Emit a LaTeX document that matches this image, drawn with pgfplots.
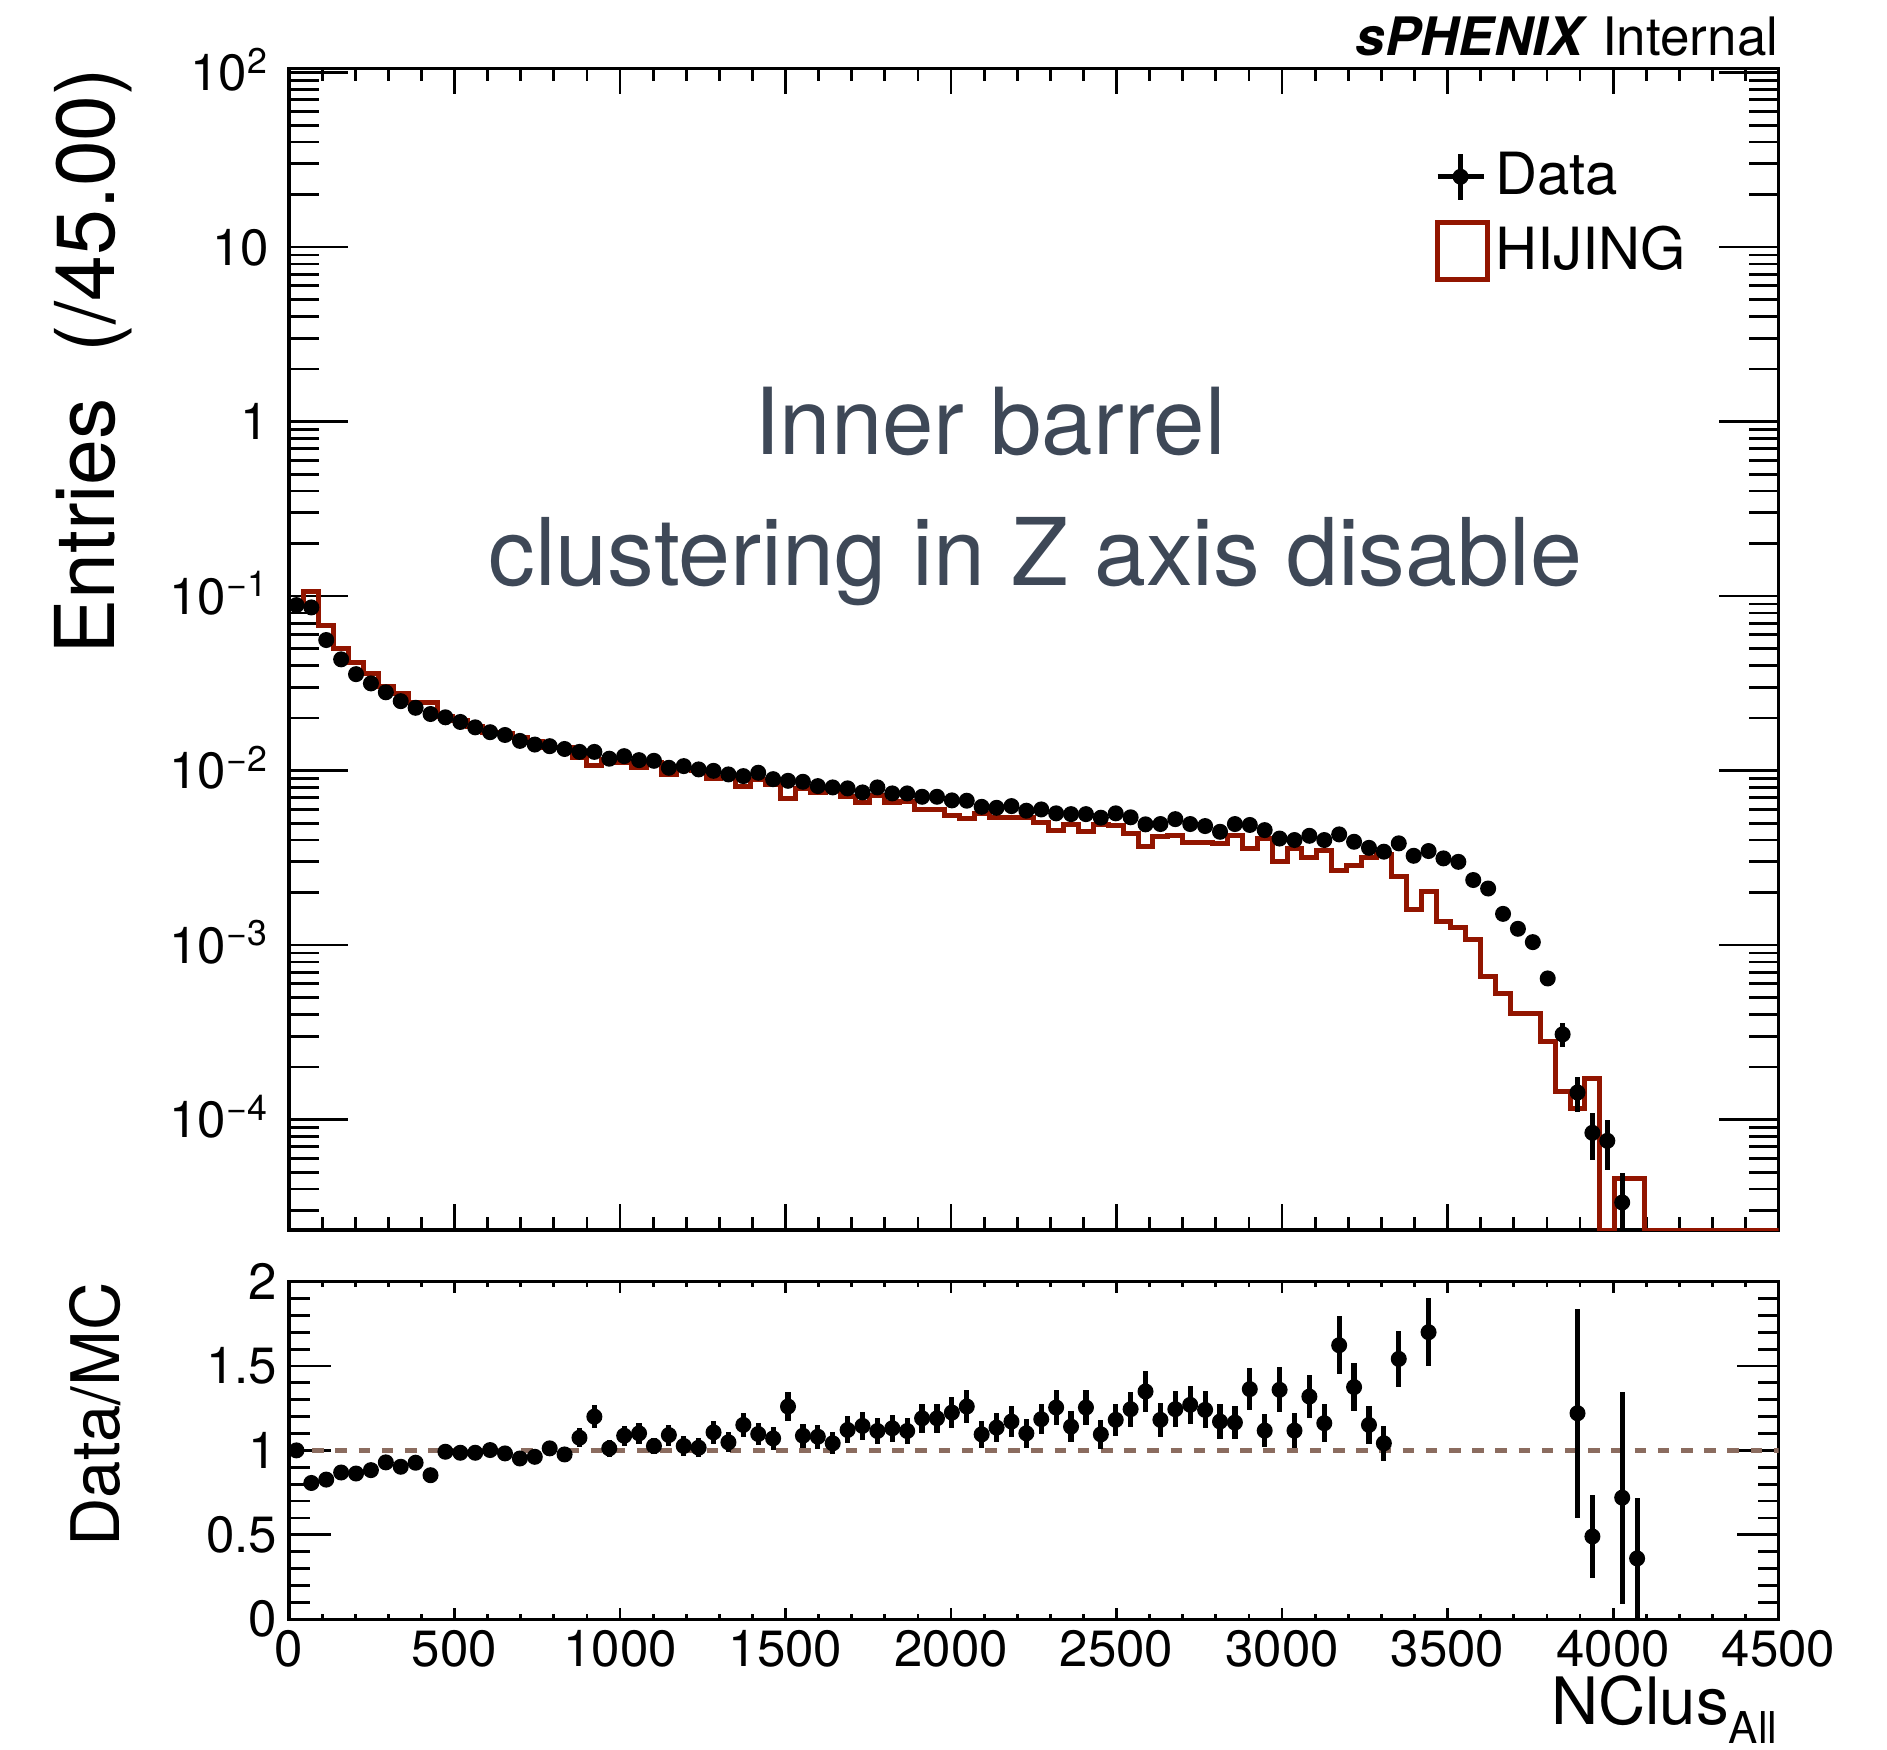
\documentclass[border=0pt]{standalone}
\usepackage{fontspec}
\setmainfont{TeX Gyre Heros}
\usepackage{pgfplots}
\usepackage{pgfplotstable}
\pgfplotsset{compat=1.18}
\definecolor{mcred}{HTML}{921500}
\definecolor{txtgray}{HTML}{3E4857}
\definecolor{dashbrown}{RGB}{139,108,95}

% HIJING histogram: left bin edge, content (empty bins drawn at the axis minimum)
\pgfplotstableread{
x y
0 0.0888
45 0.1067
90 0.0677
135 0.0499
180 0.0414
225 0.0358
270 0.0302
315 0.0277
360 0.0247
405 0.0247
450 0.0204
495 0.0193
540 0.0180
585 0.0166
630 0.0163
675 0.0155
720 0.0147
765 0.0136
810 0.0136
855 0.0119
900 0.01067
945 0.01156
990 0.01113
1035 0.01043
1080 0.01109
1125 0.00951
1170 0.01034
1215 0.01000
1260 0.00901
1305 0.00907
1350 0.00808
1395 0.00886
1440 0.00834
1485 0.00694
1530 0.00794
1575 0.00754
1620 0.00769
1665 0.00706
1710 0.00655
1755 0.00718
1800 0.00654
1845 0.00664
1890 0.00595
1935 0.00595
1980 0.00554
2025 0.00533
2070 0.00566
2115 0.00539
2160 0.00535
2205 0.00535
2250 0.00505
2295 0.00454
2340 0.00493
2385 0.00449
2430 0.00490
2475 0.00482
2520 0.00434
2565 0.00365
2610 0.00418
2655 0.00424
2700 0.00389
2745 0.00388
2790 0.00381
2835 0.00424
2880 0.00358
2925 0.00408
2970 0.00303
3015 0.00358
3060 0.00318
3105 0.00350
3150 0.00267
3195 0.00284
3240 0.00318
3285 0.00332
3330 0.00248
3375 0.00160
3420 0.00202
3465 0.00137
3510 0.00126
3555 0.00108
3600 0.000664
3645 0.000528
3690 0.000406
3735 0.000406
3780 0.000279
3825 0.000144
3870 0.000116
3915 0.000171
3960 2.33e-5
4005 4.6e-5
4050 4.6e-5
4095 2.33e-5
4140 2.33e-5
4185 2.33e-5
4230 2.33e-5
4275 2.33e-5
4320 2.33e-5
4365 2.33e-5
4410 2.33e-5
4455 2.33e-5
4500 2.33e-5
}\mctable

% Data: bin centre, content, error
\pgfplotstableread{
x y e
22.5 0.0888 0
67.5 0.0861 0
112.5 0.0560 0
157.5 0.0434 0
202.5 0.0357 0
247.5 0.0316 0
292.5 0.0281 0
337.5 0.0250 0
382.5 0.0229 0
427.5 0.0211 0
472.5 0.0202 0
517.5 0.0190 0
562.5 0.0177 0
607.5 0.0166 0
652.5 0.0160 0
697.5 0.0148 0
742.5 0.0141 0
787.5 0.0138 0
832.5 0.0133 0
877.5 0.0128 0
922.5 0.0128 0
967.5 0.0117 0
1012.5 0.0121 0
1057.5 0.01148 0
1102.5 0.01138 0
1147.5 0.01038 0
1192.5 0.01061 0
1237.5 0.01016 0
1282.5 0.00997 0
1327.5 0.00951 0
1372.5 0.00930 0
1417.5 0.00972 0
1462.5 0.00893 0
1507.5 0.00874 0
1552.5 0.00863 0
1597.5 0.00815 0
1642.5 0.00801 0
1687.5 0.00791 0
1732.5 0.00750 0
1777.5 0.00801 0
1822.5 0.00740 0
1867.5 0.00740 0
1912.5 0.00708 0
1957.5 0.00708 0
2002.5 0.00675 0
2047.5 0.00672 0
2092.5 0.00620 0
2137.5 0.00612 0
2182.5 0.00626 0
2227.5 0.00589 0
2272.5 0.00599 0
2317.5 0.00569 0
2362.5 0.00563 0
2407.5 0.00563 0
2452.5 0.00537 0
2497.5 0.00569 0
2542.5 0.00540 0
2587.5 0.00492 0
2632.5 0.00494 0
2677.5 0.00527 0
2722.5 0.00494 0
2767.5 0.00481 0
2812.5 0.00446 0
2857.5 0.00494 0
2902.5 0.00488 0
2947.5 0.00456 0
2992.5 0.00408 0
3037.5 0.00400 0
3082.5 0.00423 0
3127.5 0.00400 0
3172.5 0.00431 0
3217.5 0.00391 0
3262.5 0.00361 0
3307.5 0.00343 0
3352.5 0.00383 0
3397.5 0.00325 0
3442.5 0.00346 0
3487.5 0.00314 0
3532.5 0.00300 0
3577.5 0.00236 0.000134
3622.5 0.00211 0.000127
3667.5 0.00151 0.000107
3712.5 0.00124 0.000097
3757.5 0.00104 0.000089
3802.5 0.000644 0.000062
3847.5 0.000308 0.000048
3892.5 0.000143 0.000033
3937.5 0.000084 0.000025
3982.5 0.0000756 0.000024
4027.5 0.0000335 0.000016
}\datatable

% Data/MC ratio: bin centre, ratio, error
\pgfplotstableread{
x y e
22.5 1.000 0.02
67.5 0.807 0.02
112.5 0.827 0.02
157.5 0.869 0.02
202.5 0.863 0.02
247.5 0.883 0.02
292.5 0.929 0.025
337.5 0.903 0.025
382.5 0.927 0.025
427.5 0.853 0.025
472.5 0.992 0.03
517.5 0.986 0.03
562.5 0.986 0.03
607.5 1.002 0.03
652.5 0.982 0.03
697.5 0.952 0.03
742.5 0.962 0.03
787.5 1.012 0.035
832.5 0.976 0.035
877.5 1.075 0.055
922.5 1.200 0.066
967.5 1.012 0.05
1012.5 1.087 0.06
1057.5 1.101 0.062
1102.5 1.026 0.05
1147.5 1.091 0.062
1192.5 1.026 0.06
1237.5 1.016 0.055
1282.5 1.107 0.068
1327.5 1.048 0.06
1372.5 1.151 0.07
1417.5 1.097 0.064
1462.5 1.071 0.07
1507.5 1.260 0.084
1552.5 1.087 0.07
1597.5 1.081 0.07
1642.5 1.042 0.066
1687.5 1.121 0.08
1732.5 1.145 0.081
1777.5 1.115 0.076
1822.5 1.131 0.079
1867.5 1.115 0.078
1912.5 1.190 0.087
1957.5 1.190 0.087
2002.5 1.224 0.093
2047.5 1.260 0.096
2092.5 1.095 0.082
2137.5 1.135 0.087
2182.5 1.171 0.091
2227.5 1.101 0.085
2272.5 1.185 0.090
2317.5 1.254 0.103
2362.5 1.141 0.090
2407.5 1.254 0.105
2452.5 1.095 0.087
2497.5 1.181 0.095
2542.5 1.244 0.103
2587.5 1.349 0.122
2632.5 1.181 0.099
2677.5 1.244 0.105
2722.5 1.270 0.112
2767.5 1.240 0.110
2812.5 1.171 0.104
2857.5 1.165 0.100
2902.5 1.363 0.125
2947.5 1.117 0.097
2992.5 1.359 0.134
3037.5 1.117 0.104
3082.5 1.319 0.126
3127.5 1.161 0.111
3172.5 1.623 0.172
3217.5 1.375 0.142
3262.5 1.151 0.114
3307.5 1.042 0.102
3352.5 1.542 0.167
3442.5 1.700 0.201
3892.5 1.22 0.62
3937.5 0.49 0.243
4027.5 0.72 0.628
4072.5 0.36 0.36
}\ratiotable

\begin{document}
\begin{tikzpicture}
\useasboundingbox (0,0) rectangle (471.75bp,437.5bp);
\pgfplotsset{
  every axis/.append style={
    scale only axis, width=372.4bp, xmin=0, xmax=4500,
    axis line style={line width=0.85bp, black},
    tick style={line width=0.7bp, black},
    tick align=inside, tick pos=both, clip=true,
  },
}
% ---------- upper panel: x ticks (no labels) ----------
\begin{axis}[at={(72.25bp,130bp)}, anchor=south west, height=290.4bp,
  ymin=0, ymax=1, ytick=\empty,
  xtick={0,500,...,4500}, minor x tick num=4,
  xticklabels={,,,,,,,,,},
  major tick length=6.5bp, minor tick length=3.2bp]
\end{axis}
% ---------- upper panel: data ----------
\begin{axis}[at={(72.25bp,130bp)}, anchor=south west, height=290.4bp,
  ymode=log, ymin=2.33e-5, ymax=105.7,
  xtick=\empty,
  ytick={1e-4,1e-3,1e-2,1e-1,1,10,100},
  yticklabels={10\textsuperscript{−4},10\textsuperscript{−3},10\textsuperscript{−2},10\textsuperscript{−1},1,10,10\textsuperscript{2}},
  minor ytick={3e-5,4e-5,5e-5,6e-5,7e-5,8e-5,9e-5,
    2e-4,3e-4,4e-4,5e-4,6e-4,7e-4,8e-4,9e-4,
    2e-3,3e-3,4e-3,5e-3,6e-3,7e-3,8e-3,9e-3,
    0.02,0.03,0.04,0.05,0.06,0.07,0.08,0.09,
    0.2,0.3,0.4,0.5,0.6,0.7,0.8,0.9,
    2,3,4,5,6,7,8,9,20,30,40,50,60,70,80,90},
  major tick length=14.8bp, minor tick length=7.5bp,
  yticklabel style={font=\fontsize{12.8}{15}\selectfont, anchor=base east, inner sep=0pt, xshift=-4.8bp, yshift=-4.54bp},
  legend style={draw=none, fill=none, at={(0.7689,0.9291)}, anchor=north west,
    font=\fontsize{14.6}{17}\selectfont, inner sep=0pt, row sep=4.6bp, column sep=1.3bp,
    nodes={inner sep=0pt}},
  legend cell align=left]
\addlegendimage{legend image code/.code={
  \draw[line width=1.2bp,black] (0bp,0bp) -- (11.5bp,0bp);
  \draw[line width=1.2bp,black] (5.75bp,-5.7bp) -- (5.75bp,5.7bp);
  \fill[black] (5.75bp,0bp) circle (1.8bp);}}
\addlegendentry{Data}
\addlegendimage{legend image code/.code={
  \draw[line width=1.2bp,mcred] (0bp,-7.1bp) rectangle (12.5bp,7.1bp);}}
\addlegendentry{HIJING}
\addplot[const plot, mcred, line width=1.25bp, forget plot] table[x=x,y=y] {\mctable};
\addplot[only marks, mark=*, mark size=1.8bp, black, forget plot,
  error bars/.cd, y dir=both, y explicit, error mark=none,
  error bar style={line width=1.2bp, black}]
  table[x=x,y=y,y error=e] {\datatable};
\end{axis}
% ---------- lower panel: x ticks ----------
\begin{axis}[at={(72.25bp,32.7bp)}, anchor=south west, height=84.4bp,
  ymin=0, ymax=2, ytick=\empty,
  xtick={0,500,...,4500}, minor x tick num=4,
  xticklabels={0,500,1000,1500,2000,2500,3000,3500,4000,4500},
  xticklabel style={font=\fontsize{12.8}{15}\selectfont, anchor=north, inner sep=0pt, yshift=-2.7bp},
  major tick length=2.75bp, minor tick length=1.25bp]
\end{axis}
% ---------- lower panel: ratio ----------
\begin{axis}[at={(72.25bp,32.7bp)}, anchor=south west, height=84.4bp,
  ymin=0, ymax=2, xtick=\empty,
  ytick={0,0.5,1,1.5,2}, yticklabels={0,0.5,1,1.5,2}, minor y tick num=4,
  yticklabel style={font=\fontsize{12.8}{15}\selectfont, anchor=east, inner sep=0pt, xshift=-2.75bp},
  major tick length=10.4bp, minor tick length=5.2bp]
\addplot[dashbrown, line width=1.1bp, dash pattern=on 2.9bp off 2.9bp] coordinates {(0,1) (4500,1)};
\addplot[only marks, mark=*, mark size=1.8bp, black,
  error bars/.cd, y dir=both, y explicit, error mark=none,
  error bar style={line width=1.3bp, black}]
  table[x=x,y=y,y error=e] {\ratiotable};
\end{axis}
% ---------- texts ----------
\node[font=\fontsize{20.7}{24}\selectfont, rotate=90, anchor=base east, inner sep=0pt] at (28.7bp,420.75bp) {Entries\ \ (/45.00)};
\node[font=\fontsize{16.8}{20}\selectfont, rotate=90, anchor=base east, inner sep=0pt] at (29.8bp,117.1bp) {Data/MC};
\node[font=\fontsize{16.4}{20}\selectfont, anchor=base east, inner sep=0pt] at (444.6bp,6.4bp) {NClus\raisebox{-4.7bp}{\fontsize{11}{13}\selectfont All}};
\node[font=\fontsize{13.3}{15}\selectfont, anchor=base east, inner sep=0pt] at (444.75bp,423.5bp) {\textbf{\textit{sPHENIX}} Internal};
\node[font=\fontsize{23.2}{28}\selectfont, text=txtgray, anchor=base west, inner sep=0pt] at (188.3bp,323.8bp) {Inner barrel};
\node[font=\fontsize{23.45}{28}\selectfont, text=txtgray, anchor=base west, inner sep=0pt] at (121.9bp,291bp) {clustering in Z axis disable};
\end{tikzpicture}
\end{document}
